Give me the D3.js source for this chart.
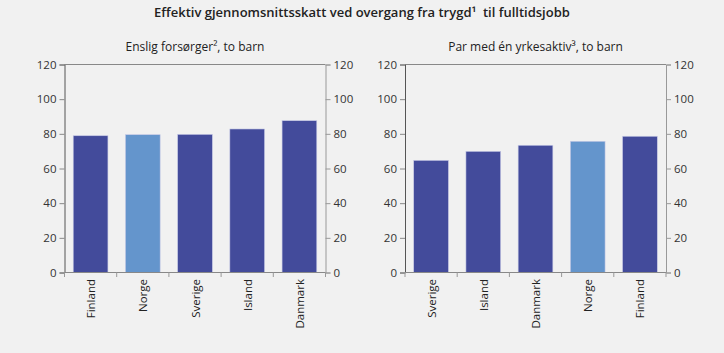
<!DOCTYPE html>
<html><head><meta charset="utf-8">
<script src="https://cdn.jsdelivr.net/npm/d3@7"></script>
<style>
html,body{margin:0;padding:0;background:#f1f1f1;}
svg{display:block;font-family:"Open Sans",sans-serif;}
</style></head><body>
<svg id="c" width="724" height="353"></svg>
<script>
const title = "Effektiv gjennomsnittsskatt ved overgang fra trygd\u00B9\u00A0 til fulltidsjobb";
const leftSubtitle = "Enslig forsørger\u00B2, to barn";
const rightSubtitle = "Par med én yrkesaktiv\u00B3, to barn";
const leftCategories = ["Finland","Norge","Sverige","Island","Danmark"];
const leftValues = [78.9, 79.5, 79.7, 82.8, 87.6];
const rightCategories = ["Sverige","Island","Danmark","Norge","Finland"];
const rightValues = [64.7, 69.9, 73.4, 75.7, 78.6];
const yTicks = [0,20,40,60,80,100,120];
const highlight = "Norge";

const svg = d3.select("#c");
const dark = "#434b9b", light = "#6495cc";

svg.append("text").attr("x",362).attr("y",17).attr("text-anchor","middle")
  .attr("font-size",13).attr("font-weight",600).attr("fill","#222").text(title);

function panel(x0, x1, cats, vals, sub){
  const y = d3.scaleLinear().domain([0,120]).range([272.5,64.5]);
  const x = d3.scaleBand().domain(cats).range([x0,x1]).paddingInner(0.335).paddingOuter(0.167);
  const g = svg.append("g");
  g.append("text").attr("x",(x0+x1)/2).attr("y",51).attr("text-anchor","middle")
    .attr("font-size",12).attr("fill","#222").text(sub);
  g.append("line").attr("x1",x0).attr("x2",x1).attr("y1",64.5).attr("y2",64.5).attr("stroke","#888");
  g.selectAll("rect.bar").data(cats).join("rect").attr("class","bar")
    .attr("x",d=>x(d)).attr("width",x.bandwidth())
    .attr("y",(d,i)=>y(vals[i])).attr("height",(d,i)=>y(0)-y(vals[i]))
    .attr("fill",d=>d===highlight?light:dark)
    .attr("stroke","#c8cbe6").attr("stroke-width",0.6);
  const ya = d3.axisLeft(y).tickValues(yTicks).tickSize(5).tickPadding(3);
  const ga = g.append("g").attr("transform",`translate(${x0},0)`).call(ya);
  ga.select(".domain").attr("stroke","#555");
  ga.selectAll(".tick line").attr("stroke","#888");
  ga.selectAll("text").attr("font-size",11.5).attr("fill","#333").attr("font-family","Open Sans");
  const yb = d3.axisRight(y).tickValues(yTicks).tickSize(5).tickPadding(3);
  const gb = g.append("g").attr("transform",`translate(${x1},0)`).call(yb);
  gb.select(".domain").attr("stroke","#999");
  gb.selectAll(".tick line").attr("stroke","#999");
  gb.selectAll("text").attr("font-size",11.5).attr("fill","#333").attr("font-family","Open Sans");
  g.append("line").attr("x1",x0).attr("x2",x1).attr("y1",272.5).attr("y2",272.5).attr("stroke","#888");
  const bounds = d3.range(cats.length+1).map(i=>x0 + i*(x1-x0)/cats.length);
  g.selectAll("line.bt").data(bounds).join("line").attr("class","bt")
    .attr("x1",d=>d).attr("x2",d=>d).attr("y1",272.5).attr("y2",277).attr("stroke","#999");
  g.selectAll("text.cl").data(cats).join("text").attr("class","cl")
    .attr("transform",d=>`translate(${x(d)+x.bandwidth()/2+4.5},279) rotate(-90)`)
    .attr("text-anchor","end").attr("font-size",11.5).attr("fill","#222").text(d=>d);
}
panel(64.5, 325.5, leftCategories, leftValues, leftSubtitle);
panel(405, 666, rightCategories, rightValues, rightSubtitle);
</script></body></html>
